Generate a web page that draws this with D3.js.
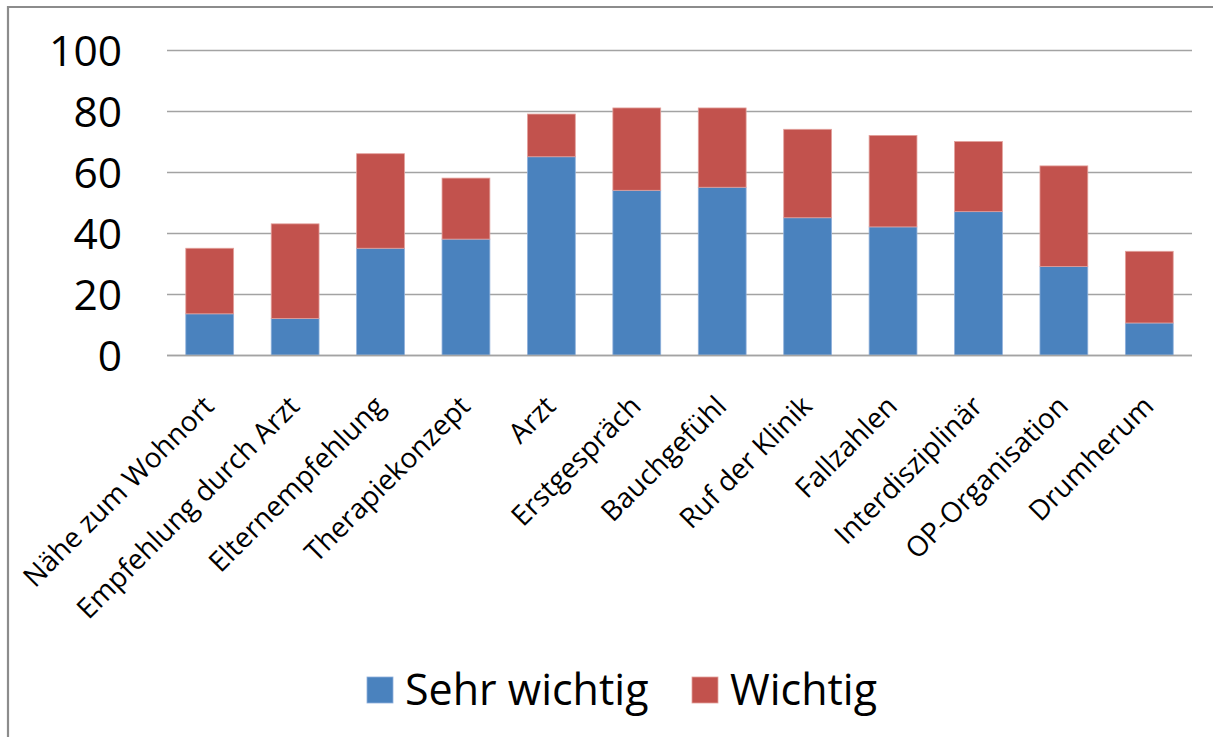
<!DOCTYPE html>
<html>
<head>
<meta charset="utf-8">
<script src="https://cdn.jsdelivr.net/npm/d3@7"></script>
<style>
  html, body { margin: 0; padding: 0; background: #fff; }
  svg { display: block; }
  text { font-family: "Open Sans", "Noto Sans", sans-serif; fill: #000; }
</style>
</head>
<body>
<svg id="chart" width="1213" height="737"></svg>
<script>
// Categories and stacked values (percent of respondents)
const categories = [
  "Nähe zum Wohnort", "Empfehlung durch Arzt", "Elternempfehlung", "Therapiekonzept",
  "Arzt", "Erstgespräch", "Bauchgefühl", "Ruf der Klinik", "Fallzahlen",
  "Interdisziplinär", "OP-Organisation", "Drumherum"
];
const sehrWichtig = [13.5, 12, 35, 38, 65, 54, 55, 45, 42, 47, 29, 10.5];
const wichtig     = [21.5, 31, 31, 20, 14, 27, 26, 29, 30, 23, 33, 23.5];
const seriesNames = ["Sehr wichtig", "Wichtig"];
const yTicks = [0, 20, 40, 60, 80, 100];

const colors = { "Sehr wichtig": "#4a82be", "Wichtig": "#c2524d" };
const edge   = { "Sehr wichtig": "#8fb0db", "Wichtig": "#e3a19c" };

const svg = d3.select("#chart");

// outer chart frame (continues past the right and bottom edges)
svg.append("path")
  .attr("d", "M8,1213 L8,7 L1213,7")
  .attr("fill", "none")
  .attr("stroke", "#8c8c8c")
  .attr("stroke-width", 2.2);

const plot = { left: 167, right: 1192, top: 50, bottom: 355 };

const x = d3.scaleBand()
  .domain(categories)
  .range([plot.left, plot.right])
  .paddingInner(0.44)
  .paddingOuter(0.22);

const y = d3.scaleLinear().domain([0, 100]).range([plot.bottom, plot.top]);

// horizontal gridlines
svg.append("g")
  .selectAll("line")
  .data(yTicks)
  .join("line")
  .attr("x1", plot.left)
  .attr("x2", plot.right)
  .attr("y1", d => Math.round(y(d)) + 0.5)
  .attr("y2", d => Math.round(y(d)) + 0.5)
  .attr("stroke", "#a3a3a3")
  .attr("stroke-width", 1.6);

// y axis labels
const yAxis = d3.axisLeft(y).tickValues(yTicks).tickSize(0).tickPadding(0);
const yg = svg.append("g")
  .attr("transform", `translate(122,0)`)
  .call(yAxis);
yg.select(".domain").remove();
yg.selectAll("text")
  .attr("font-size", 42.5)
  .attr("font-family", "\"Open Sans\", sans-serif")
  .attr("fill", "#000")
  .attr("dy", "0.36em");

// stacked bars
const rows = categories.map((c, i) => ({ cat: c, "Sehr wichtig": sehrWichtig[i], "Wichtig": wichtig[i] }));
const stack = d3.stack().keys(seriesNames)(rows);

svg.append("g")
  .selectAll("g")
  .data(stack)
  .join("g")
  .attr("fill", s => colors[s.key])
  .attr("stroke", s => edge[s.key])
  .attr("stroke-width", 0.8)
  .selectAll("rect")
  .data(s => s)
  .join("rect")
  .attr("x", d => x(d.data.cat))
  .attr("width", x.bandwidth())
  .attr("y", d => y(d[1]))
  .attr("height", d => y(d[0]) - y(d[1]));

// baseline
svg.append("line")
  .attr("x1", plot.left).attr("x2", plot.right)
  .attr("y1", plot.bottom + 0.5).attr("y2", plot.bottom + 0.5)
  .attr("stroke", "#a3a3a3").attr("stroke-width", 1.6);

// rotated category labels
svg.append("g")
  .selectAll("text")
  .data(categories)
  .join("text")
  .attr("transform", d => `translate(${x(d) + x.bandwidth() / 2 - 1},${401}) rotate(-45)`)
  .attr("text-anchor", "end")
  .attr("dy", "0.35em")
  .attr("font-size", 28)
  .text(d => d);

// legend
const legendItems = [
  { name: "Sehr wichtig", sx: 367, tx: 405 },
  { name: "Wichtig", sx: 692, tx: 730 }
];
const lg = svg.append("g");
lg.selectAll("rect")
  .data(legendItems)
  .join("rect")
  .attr("x", d => d.sx)
  .attr("y", 677)
  .attr("width", 26)
  .attr("height", 26)
  .attr("fill", d => colors[d.name])
  .attr("stroke", d => edge[d.name])
  .attr("stroke-width", 0.8);
lg.selectAll("text")
  .data(legendItems)
  .join("text")
  .attr("x", d => d.tx)
  .attr("y", 705)
  .attr("font-size", 43)
  .text(d => d.name);
</script>
</body>
</html>
